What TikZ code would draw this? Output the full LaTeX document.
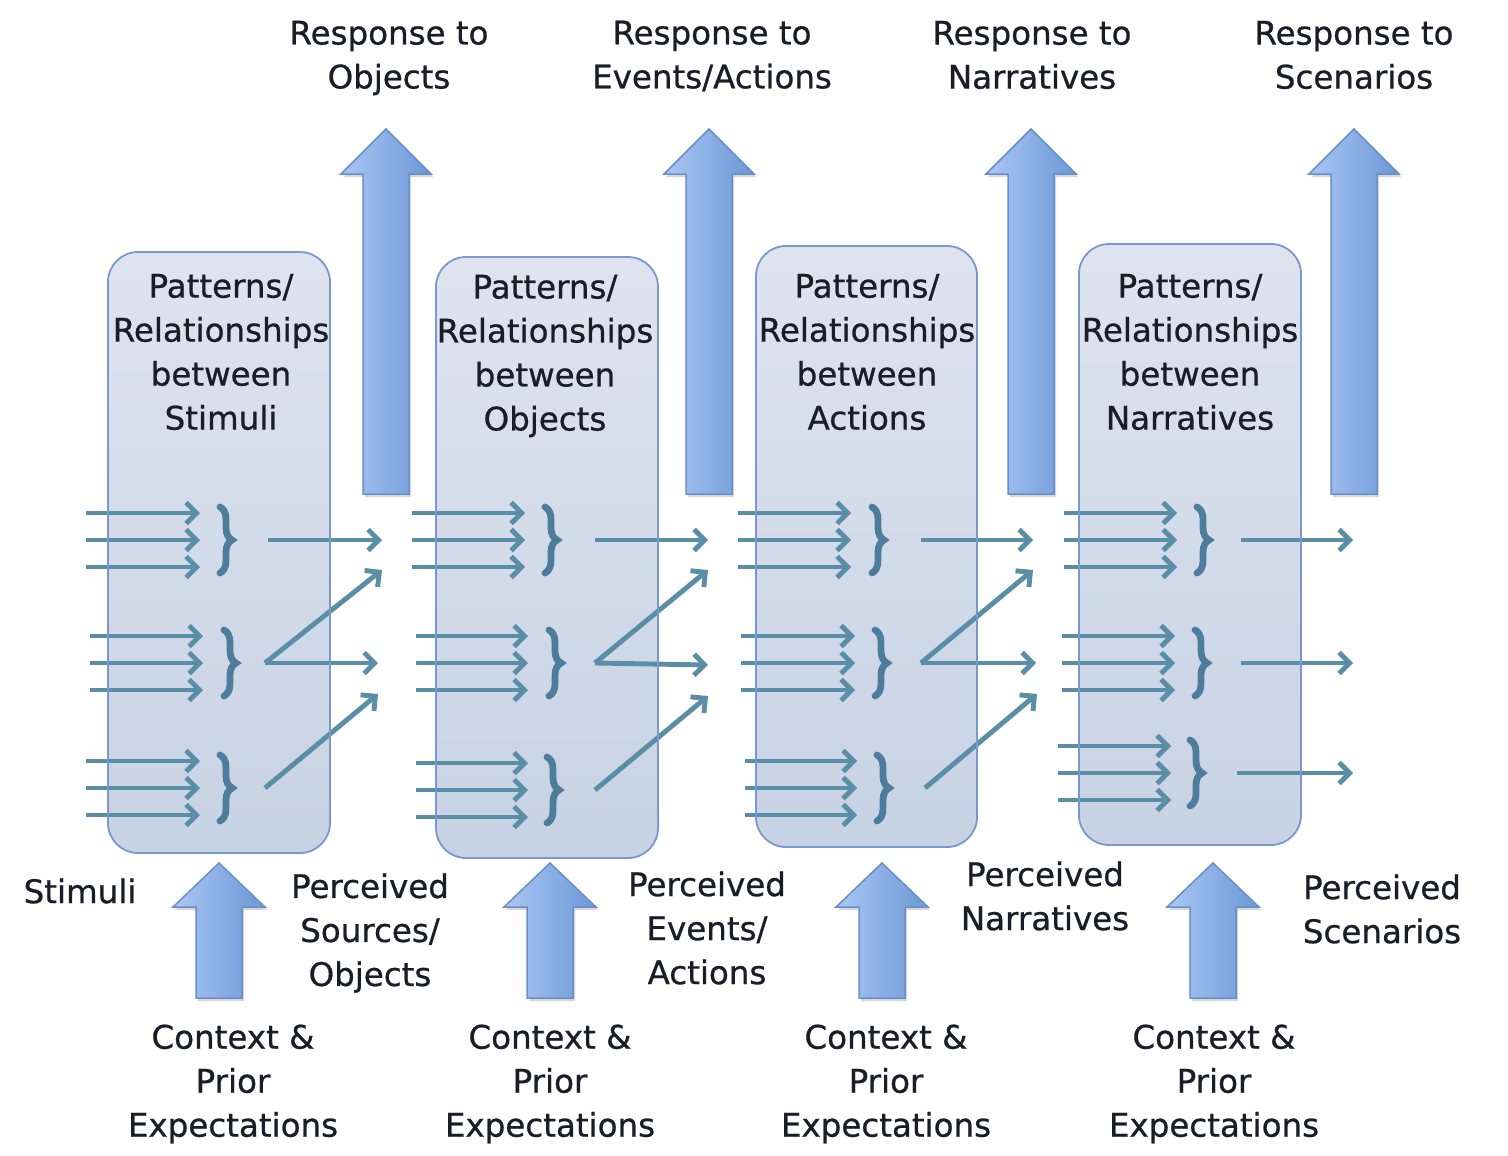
\documentclass[tikz,border=0pt]{standalone}
\usepackage{fontspec}
\setmainfont{DejaVu Sans}[FakeBold=0.7]
\usetikzlibrary{arrows.meta,decorations.pathreplacing}
\definecolor{arr}{RGB}{90,141,166}
\definecolor{brc}{RGB}{78,124,155}
\definecolor{boxb}{RGB}{120,152,206}
\definecolor{boxt}{RGB}{222,228,239}
\definecolor{boxbot}{RGB}{199,210,228}
\definecolor{bigl}{RGB}{170,198,244}
\definecolor{bigr}{RGB}{108,152,214}
\definecolor{bigb}{RGB}{106,143,200}
\definecolor{txt}{RGB}{28,28,40}
\tikzset{
  sarrow/.style={draw=arr, line width=4.9pt, -{Straight Barb[length=10.5pt,width=21pt]}},
  bracestyle/.style={draw=brc, line width=6.8pt, line cap=round, decorate,
     decoration={brace, amplitude=12pt, aspect=0.5}},
  panelfill/.style={rounded corners=30pt, top color=boxt, bottom color=boxbot, draw=none,
     minimum width=222pt, minimum height=601pt, inner sep=0pt},
  panelline/.style={draw=boxb, line width=1.8pt, rounded corners=30pt, fill=none,
     minimum width=222pt, minimum height=601pt, inner sep=0pt},
  bigarrow/.style={draw=bigb, line width=1.5pt, left color=bigl, right color=bigr},
  shadowarrow/.style={fill=black, fill opacity=0.16},
  lbl/.style={text=txt, align=center, font=\fontsize{32.5}{44}\selectfont, inner sep=0pt},
}
\newcommand{\grp}[4]{%
  \foreach \dd in {-27,0,27} {\draw[sarrow] (#1,#3+\dd) -- (#2,#3+\dd);}
  \draw[bracestyle] (#4,#3-33) -- (#4,#3+33);
}
\newcommand{\uparr}[1]{%
  \fill[shadowarrow] (#1-21,497) -- (#1-21,177) -- (#1-43,177) -- (#1+2,132) -- (#1+47,177) -- (#1+25,177) -- (#1+25,497) -- cycle;
  \path[bigarrow] (#1-23,494) -- (#1-23,174) -- (#1-45,174) -- (#1,129) -- (#1+45,174) -- (#1+23,174) -- (#1+23,494) -- cycle;
}
\newcommand{\botarr}[1]{%
  \fill[shadowarrow] (#1-21,1001) -- (#1-21,910) -- (#1-44,910) -- (#1+2,866) -- (#1+48,910) -- (#1+25,910) -- (#1+25,1001) -- cycle;
  \path[bigarrow] (#1-23,998) -- (#1-23,907) -- (#1-46,907) -- (#1,863) -- (#1+46,907) -- (#1+23,907) -- (#1+23,998) -- cycle;
}
\begin{document}
\begin{tikzpicture}[x=1pt,y=-1pt]
\useasboundingbox (0,0) rectangle (1508,1156);
\fill[white] (0,0) rectangle (1508,1156);

% big arrows
\uparr{386}\uparr{709}\uparr{1031}\uparr{1354}
\botarr{219}\botarr{550}\botarr{882}\botarr{1213}

% panel fills
\node[panelfill] (f1) at (219,552.5) {};
\node[panelfill] (f2) at (547,557.5) {};
\node[panelfill, minimum width=221pt] (f3) at (866.5,546.5) {};
\node[panelfill] (f4) at (1190,544.5) {};

% small arrows and braces
% box 1
\grp{86}{200}{540}{220}
\grp{90}{203}{663}{224}
\grp{86}{200}{788}{220}
\coordinate (s11) at (268,540); \coordinate (t11) at (382,540);
\coordinate (s12) at (265,663); \coordinate (t12) at (378,663); \coordinate (u12) at (382,570);
\coordinate (s13) at (265,788); \coordinate (t13) at (378,694);
\draw[sarrow] (s11) -- (t11);
\draw[sarrow] (s12) -- (t12);
\draw[sarrow] (s12) -- (u12);
\draw[sarrow] (s13) -- (t13);
% box 2
\grp{412}{525}{540}{545}
\grp{416}{528}{663}{549}
\grp{416}{528}{790}{547}
\coordinate (s21) at (595,540); \coordinate (t21) at (708,540);
\coordinate (s22) at (595,663); \coordinate (t22) at (708,665); \coordinate (u22) at (708,570);
\coordinate (s23) at (595,790); \coordinate (t23) at (708,696);
\draw[sarrow] (s21) -- (t21);
\draw[sarrow] (s22) -- (t22);
\draw[sarrow] (s22) -- (u22);
\draw[sarrow] (s23) -- (t23);
% box 3
\grp{738}{851}{540}{872}
\grp{741}{855}{663}{875}
\grp{745}{857}{788}{877}
\coordinate (s31) at (921,540); \coordinate (t31) at (1033,540);
\coordinate (s32) at (921,663); \coordinate (t32) at (1036,663); \coordinate (u32) at (1033,570);
\coordinate (s33) at (925,788); \coordinate (t33) at (1037,694);
\draw[sarrow] (s31) -- (t31);
\draw[sarrow] (s32) -- (t32);
\draw[sarrow] (s32) -- (u32);
\draw[sarrow] (s33) -- (t33);
% box 4
\grp{1064}{1177}{540}{1197}
\grp{1062}{1175}{663}{1195}
\grp{1058}{1171}{773}{1190}
\coordinate (s41) at (1241,540); \coordinate (t41) at (1353,540);
\coordinate (s42) at (1241,663); \coordinate (t42) at (1353,663);
\coordinate (s43) at (1237,773); \coordinate (t43) at (1353,773);
\draw[sarrow] (s41) -- (t41);
\draw[sarrow] (s42) -- (t42);
\draw[sarrow] (s43) -- (t43);

% panel borders (over the arrows)
\node[panelline] (p1) at (219,552.5) {};
\node[panelline] (p2) at (547,557.5) {};
\node[panelline, minimum width=221pt] (p3) at (866.5,546.5) {};
\node[panelline] (p4) at (1190,544.5) {};

% panel texts
\node[lbl] (pt1) at (221,352) {Patterns/\\Relationships\\between\\Stimuli};
\node[lbl] (pt2) at (545,356) {Patterns/\\Relationships\\between\\Objects};
\node[lbl] (pt3) at (867,352) {Patterns/\\Relationships\\between\\Actions};
\node[lbl] (pt4) at (1190,352) {Patterns/\\Relationships\\between\\Narratives};

% response texts
\node[lbl] (r1) at (389,58) {Response to\\Objects};
\node[lbl] (r2) at (712,56) {Response to\\Events/Actions};
\node[lbl] (r3) at (1032,55) {Response to\\Narratives};
\node[lbl] (r4) at (1354,55) {Response to\\Scenarios};

% perceived texts
\node[lbl] (stim) at (80,891) {Stimuli};
\node[lbl] (pc1) at (370,933) {Perceived\\Sources/\\Objects};
\node[lbl] (pc2) at (707,928) {Perceived\\Events/\\Actions};
\node[lbl] (pc3) at (1045,896) {Perceived\\Narratives};
\node[lbl] (pc4) at (1382,909) {Perceived\\Scenarios};

% context texts
\node[lbl] (cx1) at (233,1084) {Context \&\\Prior\\Expectations};
\node[lbl] (cx2) at (550,1084) {Context \&\\Prior\\Expectations};
\node[lbl] (cx3) at (886,1084) {Context \&\\Prior\\Expectations};
\node[lbl] (cx4) at (1214,1084) {Context \&\\Prior\\Expectations};
\end{tikzpicture}
\end{document}
